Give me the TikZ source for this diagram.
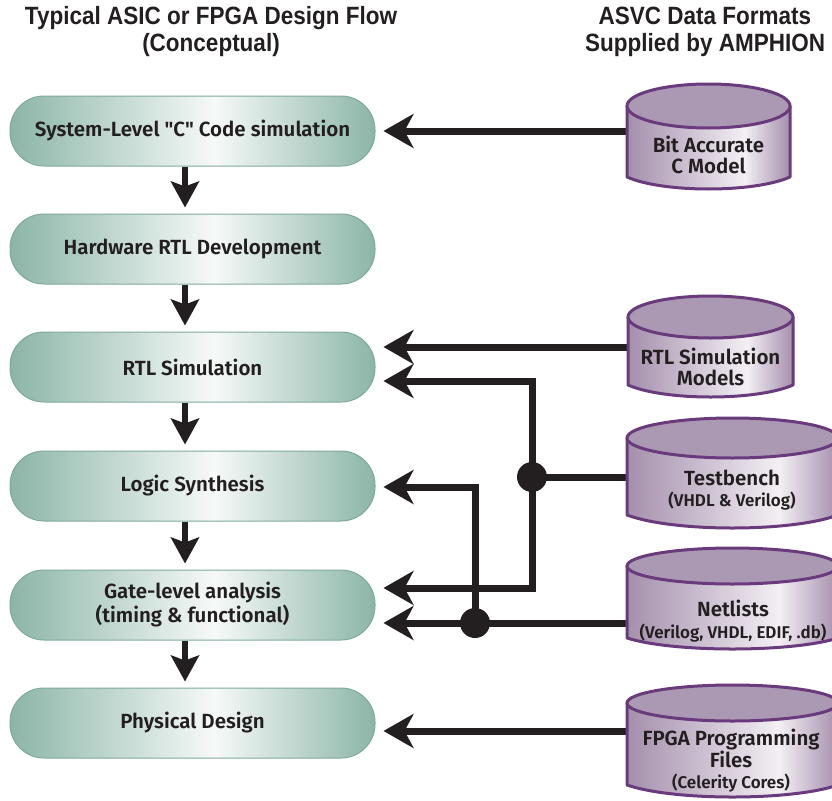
\documentclass[tikz,border=0pt]{standalone}
\usepackage{fontspec}
\setmainfont{Fira Sans}
\IfFontExistsTF{Fira Sans SemiBold}
  {\newfontfamily\boxfont{Fira Sans SemiBold}}
  {\newfontfamily\boxfont{Fira Sans}[UprightFont={* Bold}]}
\newfontfamily\headfont{Liberation Sans}[FakeStretch=0.9]
\newcommand\subsize{\fontsize{17}{19}\selectfont}
\usetikzlibrary{arrows.meta}

\definecolor{ink}{HTML}{231F20}
\definecolor{pillteal}{HTML}{8BB5A7}
\definecolor{pillrim}{HTML}{7FAA9B}
\definecolor{pillwhite}{HTML}{F6F9F8}
\definecolor{cylbody}{HTML}{A48FAC}
\definecolor{cylwhite}{HTML}{F3EFF4}
\definecolor{cyltop}{HTML}{AB98B2}
\definecolor{cylrim}{HTML}{6A3B7C}

% teal pill: darker at both ends, bright band right of centre
\pgfdeclarehorizontalshading{pillshade}{100bp}{%
  color(0bp)=(pillteal); color(25bp)=(pillteal); color(53bp)=(pillwhite);
  color(75bp)=(pillteal); color(100bp)=(pillteal)}
% purple drum body with a highlight towards the right
\pgfdeclarehorizontalshading{cylshade}{100bp}{%
  color(0bp)=(cylbody); color(25bp)=(cylbody); color(61bp)=(cylwhite);
  color(75bp)=(cylbody); color(100bp)=(cylbody)}

\tikzset{
  flowbox/.style={rectangle, rounded corners=34pt, minimum width=365pt,
    minimum height=70pt, shade, shading=pillshade, draw=pillrim, line width=1pt,
    font=\boxfont\fontsize{20.5}{24}\selectfont, text=ink, align=center, inner sep=0pt},
  cyllabel/.style={font=\boxfont\fontsize{20.5}{21.5}\selectfont, text=ink, align=center, inner sep=0pt},
  heading/.style={font=\headfont\bfseries\fontsize{25}{27}\selectfont, text=ink, align=center},
  downarrow/.style={draw=ink, line width=6pt,
    -{Stealth[length=26pt, width=28pt, inset=5pt]}, shorten >=6pt},
  conn/.style={draw=ink, line width=7pt},
  feed/.style={conn, -{Stealth[length=30pt, width=34pt, inset=9pt]}, shorten >=8pt},
  junction/.style={fill=ink},
}

% data drum: #1 left x, #2 right x, #3 top y, #4 lid half-height,
% #5 y where the sides end, #6 sag of the bottom edge
\newcommand\datacyl[6]{%
  \pgfmathsetmacro\cylmx{(#1+#2)/2}%
  \pgfmathsetmacro\cylrx{(#2-#1)/2}%
  \pgfmathsetmacro\cylcy{#3+#4}%
  \pgfmathsetmacro\cylw{#2-#1}%
  \pgfmathsetmacro\cylbot{#5+4*#6/3}%
  \shadedraw[shading=cylshade, draw=cylrim, line width=3pt, line join=round]
    (#1,\cylcy) -- (#1,#5)
    .. controls ({#1+0.22*\cylw},\cylbot) and ({#2-0.22*\cylw},\cylbot) .. (#2,#5)
    -- (#2,\cylcy) -- cycle;
  \filldraw[fill=cyltop, draw=cylrim, line width=3pt]
    (\cylmx,\cylcy) ellipse [x radius=\cylrx pt, y radius=#4 pt];
}

\begin{document}
\begin{tikzpicture}[x=1pt, y=-1pt]
\useasboundingbox (0,0) rectangle (832,800);
\clip (0,0) rectangle (832,800);

% column headings
\node[heading] (lefthead) at (211,32) {Typical ASIC or FPGA Design Flow\\(Conceptual)};
\node[heading] (righthead) at (705,32) {ASVC Data Formats\\Supplied by AMPHION};

% design flow steps
\node[flowbox] (sysc)  at (192.5,131) {System-Level "C" Code simulation};
\node[flowbox] (hwrtl) at (192.5,249) {Hardware RTL Development};
\node[flowbox] (rtlsim) at (192.5,367) {RTL Simulation};
\node[flowbox] (synth) at (192.5,486) {Logic Synthesis};
\node[flowbox] (gate)  at (192.5,605) {Gate-level analysis\\(timing \& functional)};
\node[flowbox] (phys)  at (192.5,723) {Physical Design};

\foreach \a/\b in {sysc/hwrtl, hwrtl/rtlsim, rtlsim/synth, synth/gate, gate/phys}
  \draw[downarrow] ([xshift=-7.5pt]\a.south) -- ([xshift=-7.5pt]\b.north);

% attachment points on the drums and junctions of the feed lines
\coordinate (bitw) at (632,131);
\coordinate (modw) at (632,347);
\coordinate (tbw)  at (632,477);
\coordinate (netw) at (632,623);
\coordinate (fpgaw) at (632,731);
\coordinate (tbdot) at (532,477);
\coordinate (tbtop) at (532,381);
\coordinate (tbbot) at (532,588);
\coordinate (netdot) at (475,623);
\coordinate (netbend) at (475,487);

% feed lines into the flow
\draw[feed] (bitw) -- (bitw -| sysc.east);
\draw[feed] (modw) -- (modw -| rtlsim.east);
\draw[conn, {Stealth[length=30pt, width=34pt, inset=9pt]}-{Stealth[length=30pt, width=34pt, inset=9pt]},
      shorten <=8pt, shorten >=8pt]
  (tbtop -| rtlsim.east) -- (tbtop) -- (tbbot) -- (tbbot -| gate.east);
\draw[conn] (tbw) -- (tbdot);
\draw[feed] (netw) -- (netw -| gate.east);
\draw[feed] (netdot) -- (netbend) -- (netbend -| synth.east);
\draw[feed] (fpgaw) -- (fpgaw -| phys.east);
\fill[junction] (tbdot) circle [radius=15pt];
\fill[junction] (netdot) circle [radius=15pt];

% data format drums
\datacyl{627}{790}{84}{22}{177}{12}
\node[cyllabel] (bitc) at (708.5,155) {Bit Accurate\\C Model};
\datacyl{628}{793}{296}{21}{385}{12}
\node[cyllabel] (rtlmod) at (710.5,367) {RTL Simulation\\Models};
\datacyl{627}{838}{418}{20}{515}{13}
\node[cyllabel] (tbench) at (732,490) {Testbench\\{\subsize (VHDL \& Verilog)}};
\datacyl{627}{838}{548}{18}{638}{11}
\node[cyllabel] (netl) at (733,621) {Netlists\\{\subsize (Verilog, VHDL, EDIF, .db)}};
\datacyl{627}{838}{685}{18}{785}{12}
\node[cyllabel] (fpgaf) at (731,761) {FPGA Programming\\Files\\{\subsize (Celerity Cores)}};
\end{tikzpicture}
\end{document}
